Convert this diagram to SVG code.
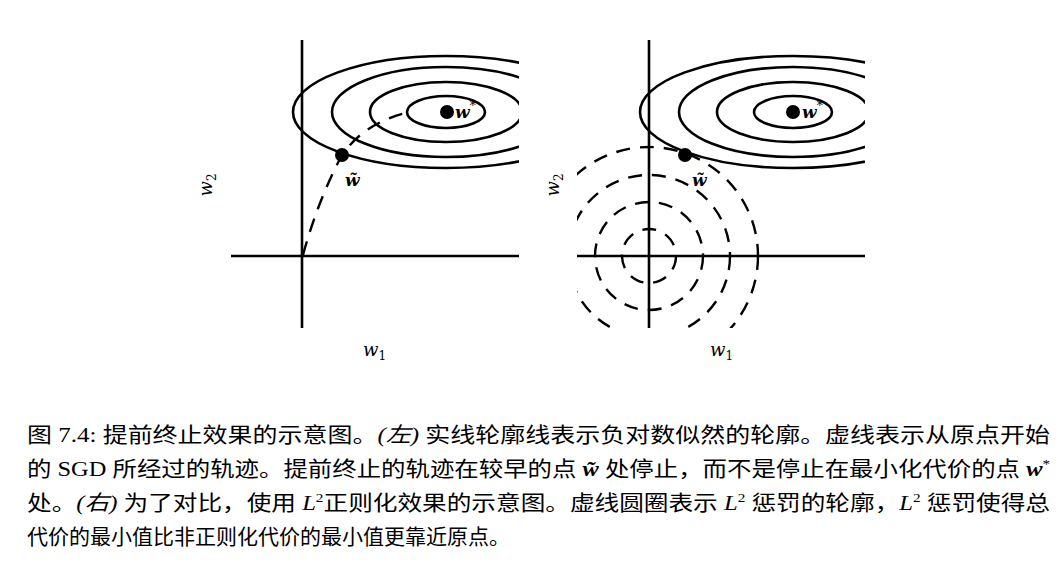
<svg xmlns="http://www.w3.org/2000/svg" width="1064" height="580" viewBox="0 0 1064 580">
<style>
.ax{stroke:#000;stroke-width:2.6;fill:none}
.el{stroke:#000;stroke-width:2.6;fill:none}
.ds{stroke:#000;stroke-width:2.4;fill:none;stroke-dasharray:14,10}
.m{font-family:"DejaVu Serif","Liberation Serif",serif;font-style:italic;font-size:18px}
.mb{font-family:"DejaVu Serif","Liberation Serif",serif;font-style:italic;font-weight:bold;font-size:17px}
.cap{font-family:"Liberation Serif","Noto Sans CJK SC",serif;font-size:21px}
</style>
<defs>
<clipPath id="cl"><rect x="231" y="40" width="288" height="288"/></clipPath>
<clipPath id="cr"><rect x="577" y="40" width="288" height="288"/></clipPath>
<g id="ells">
<ellipse cx="446" cy="112" rx="39" ry="16"/>
<ellipse cx="446" cy="112" rx="76" ry="30"/>
<ellipse cx="446" cy="112" rx="114" ry="45"/>
<ellipse cx="446" cy="112" rx="153" ry="56"/>
</g>
</defs>
<g id="left">
<g clip-path="url(#cl)" class="el"><use href="#ells"/></g>
<line class="ax" x1="302" y1="40" x2="302" y2="328"/>
<line class="ax" x1="231" y1="256" x2="519" y2="256"/>
<path class="ds" d="M303,255 Q318,200 342,155 Q365,122 410,112"/>
<circle cx="342" cy="155" r="7"/>
<circle cx="447" cy="112" r="7"/>
<text class="mb" x="455" y="118">w<tspan font-size="12" font-weight="normal" dy="-8">*</tspan></text>
<text class="mb" x="345" y="186">w̃</text>
<text class="m" transform="translate(212,185) rotate(-90)" text-anchor="middle">w<tspan font-size="12" font-style="normal" dy="4">2</tspan></text>
<text class="m" x="363" y="356">w<tspan font-size="12" font-style="normal" dy="4">1</tspan></text>
</g>
<g id="right">
<g clip-path="url(#cr)">
<g class="el" transform="translate(347,0)"><use href="#ells"/></g>
<g class="ds">
<circle cx="649" cy="256" r="27"/>
<circle cx="649" cy="256" r="54"/>
<circle cx="649" cy="256" r="81"/>
<circle cx="649" cy="256" r="109"/>
</g>
</g>
<line class="ax" x1="649" y1="40" x2="649" y2="328"/>
<line class="ax" x1="577" y1="256" x2="865" y2="256"/>
<circle cx="685" cy="155" r="7"/>
<circle cx="793" cy="112" r="7"/>
<text class="mb" x="802" y="118">w<tspan font-size="12" font-weight="normal" dy="-8">*</tspan></text>
<text class="mb" x="692" y="186">w̃</text>
<text class="m" transform="translate(559,185) rotate(-90)" text-anchor="middle">w<tspan font-size="12" font-style="normal" dy="4">2</tspan></text>
<text class="m" x="710" y="356">w<tspan font-size="12" font-style="normal" dy="4">1</tspan></text>
</g>
<g id="caption" class="cap">
<text x="27" y="442" textLength="1023" lengthAdjust="spacingAndGlyphs">图 7.4: 提前终止效果的示意图。<tspan font-style="italic">(左)</tspan> 实线轮廓线表示负对数似然的轮廓。虚线表示从原点开始</text>
<text x="27" y="476" textLength="1023" lengthAdjust="spacingAndGlyphs">的 SGD 所经过的轨迹。提前终止的轨迹在较早的点 <tspan font-weight="bold" font-style="italic">w̃</tspan> 处停止，而不是停止在最小化代价的点 <tspan font-weight="bold" font-style="italic">w</tspan><tspan font-size="13" dy="-8">*</tspan></text>
<text x="27" y="510" textLength="1023" lengthAdjust="spacingAndGlyphs">处。<tspan font-style="italic">(右)</tspan> 为了对比，使用 <tspan font-style="italic">L</tspan><tspan font-size="13" dy="-8">2</tspan><tspan dy="8">正则化效果的示意图。虚线圆圈表示 </tspan><tspan font-style="italic">L</tspan><tspan font-size="13" dy="-8">2</tspan><tspan dy="8"> 惩罚的轮廓，</tspan><tspan font-style="italic">L</tspan><tspan font-size="13" dy="-8">2</tspan><tspan dy="8"> 惩罚使得总</tspan></text>
<text x="27" y="544">代价的最小值比非正则化代价的最小值更靠近原点。</text>
</g>
</svg>
